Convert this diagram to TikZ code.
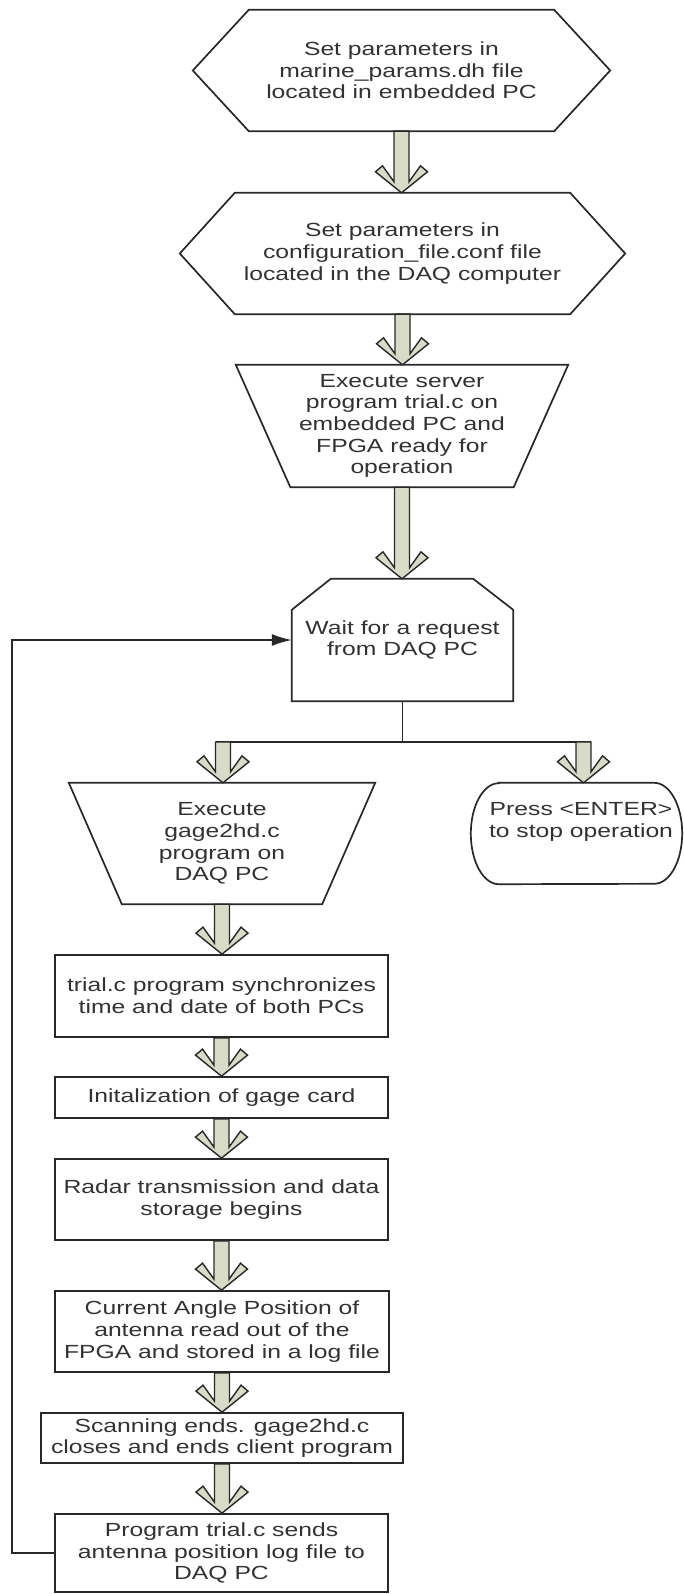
\documentclass[tikz,border=0pt]{standalone}
\usepackage{fontspec}
\setmainfont{Liberation Sans}[FakeStretch=1.3]
\usetikzlibrary{calc,arrows.meta}
\definecolor{arrfill}{RGB}{216,219,200}
\definecolor{ink}{RGB}{40,40,40}
\definecolor{txt}{RGB}{50,50,50}
\newcommand\fatarr[2]{%
  \draw[fat] let \p1=(#1), \p2=(#2) in
   (\x1-7.5pt,\y1) -- (\x1-7.5pt,\y2+11pt) -- (\x1-19pt,\y2+27pt) -- (\x1-26pt,\y2+21pt)
   -- (\x1,\y2) -- (\x1+26pt,\y2+21pt) -- (\x1+19pt,\y2+27pt) -- (\x1+7.5pt,\y2+11pt)
   -- (\x1+7.5pt,\y1) -- cycle;}
\begin{document}
\begin{tikzpicture}[x=1pt,y=-1pt,
  every node/.style={font=\fontsize{19}{21.7}\selectfont, text=txt, align=center, inner sep=0pt},
  frame/.style 2 args={minimum width=#1, minimum height=#2},
  shp/.style={draw=ink, line width=1.7pt, line join=miter},
  boxnode/.style={draw=ink, line width=1.7pt},
  fat/.style={draw=ink, line width=1.4pt, fill=arrfill, line join=miter},
  conn/.style={draw=ink, line width=1.7pt}]
\fill[white] (0,0) rectangle (684,1594);
\useasboundingbox (0,0) rectangle (684,1594);

% nodes
\node[frame={417pt}{121pt}] (h1) at (401.5,70.5) {Set parameters in\\marine\_params.dh file\\located in embedded PC};
\node[frame={445pt}{121pt}] (h2) at (402.5,253.5) {Set parameters in\\configuration\_file.conf file\\located in the DAQ computer};
\node[frame={332pt}{122pt}] (t1) at (402,426) {Execute server\\program trial.c on\\embedded PC and\\FPGA ready for\\operation};
\node[frame={221pt}{122pt}] (w) at (402.5,640) {Wait for a request\\from DAQ PC};
\node[frame={306pt}{121pt}] (t2) at (222,843.5) {Execute\\gage2hd.c\\program on\\DAQ PC};
\node[frame={211pt}{101pt}] (e) at (576.5,833.5) {};
\node (et) at (581,822) {Press <ENTER>\\to stop operation};
\node[boxnode,frame={333pt}{82pt}] (b1) at (221.5,996) {trial.c program synchronizes\\time and date of both PCs};
\node[boxnode,frame={333pt}{41pt}] (b2) at (221.5,1097.5) {Initalization of gage card};
\node[boxnode,frame={333pt}{81pt}] (b3) at (221.5,1199.5) {Radar transmission and data\\storage begins};
\node[boxnode,frame={334pt}{81pt}] (b4) at (222,1331.5) {Current Angle Position of\\antenna read out of the\\FPGA and stored in a log file};
\node[boxnode,frame={362pt}{50pt}] (b5) at (222,1438) {Scanning ends. gage2hd.c\\closes and ends client program};
\node[boxnode,frame={333pt}{78pt}] (b6) at (221.5,1553) {Program trial.c sends\\antenna position log file to\\DAQ PC};

% outlines
\draw[shp] ($(h1.north west)+(56,0)$) -- ($(h1.north east)+(-56,0)$) -- (h1.east)
  -- ($(h1.south east)+(-56,0)$) -- ($(h1.south west)+(56,0)$) -- (h1.west) -- cycle;
\draw[shp] ($(h2.north west)+(55,0)$) -- ($(h2.north east)+(-55,0)$) -- (h2.east)
  -- ($(h2.south east)+(-55,0)$) -- ($(h2.south west)+(55,0)$) -- (h2.west) -- cycle;
\draw[shp] (t1.north west) -- (t1.north east) -- ($(t1.south east)+(-54.5,0)$)
  -- ($(t1.south west)+(54.5,0)$) -- cycle;
\draw[shp] ($(w.north west)+(39,0)$) -- ($(w.north east)+(-40,0)$) -- ($(w.north east)+(0,31)$)
  -- (w.south east) -- (w.south west) -- ($(w.north west)+(0,31)$) -- cycle;
\draw[shp] (t2.north west) -- (t2.north east) -- ($(t2.south east)+(-53,0)$)
  -- ($(t2.south west)+(53,0)$) -- cycle;
\draw[shp] ($(e.north west)+(28,0)$) -- ($(e.north east)+(-28,0)$)
  arc[start angle=90, end angle=-90, x radius=28pt, y radius=50.5pt]
  -- ($(e.south west)+(28,0)$)
  arc[start angle=270, end angle=90, x radius=28pt, y radius=50.5pt] -- cycle;

% branch connector
\coordinate (bj) at (402.5,742);
\coordinate (bl) at (223,742);
\coordinate (br) at (583.5,742);
\draw[conn] (w.south) -- (bj);
\draw[conn] ($(bl)+(-7.5,0)$) -- ($(br)+(7.5,0)$);

% fat arrows
\fatarr{h1.south}{h2.north}
\fatarr{h2.south}{t1.north}
\fatarr{t1.south}{w.north}
\fatarr{bl}{t2.north}
\fatarr{br}{e.north}
\fatarr{t2.south}{b1.north}
\fatarr{b1.south}{b2.north}
\fatarr{b2.south}{b3.north}
\fatarr{b3.south}{b4.north}
\fatarr{b4.south}{b5.north}
\fatarr{b5.south}{b6.north}

% loop back
\draw[conn, -{Latex[length=20pt,width=12pt]}] (b6.west) -- ++(-42,0) |- (w.west);
\end{tikzpicture}
\end{document}
